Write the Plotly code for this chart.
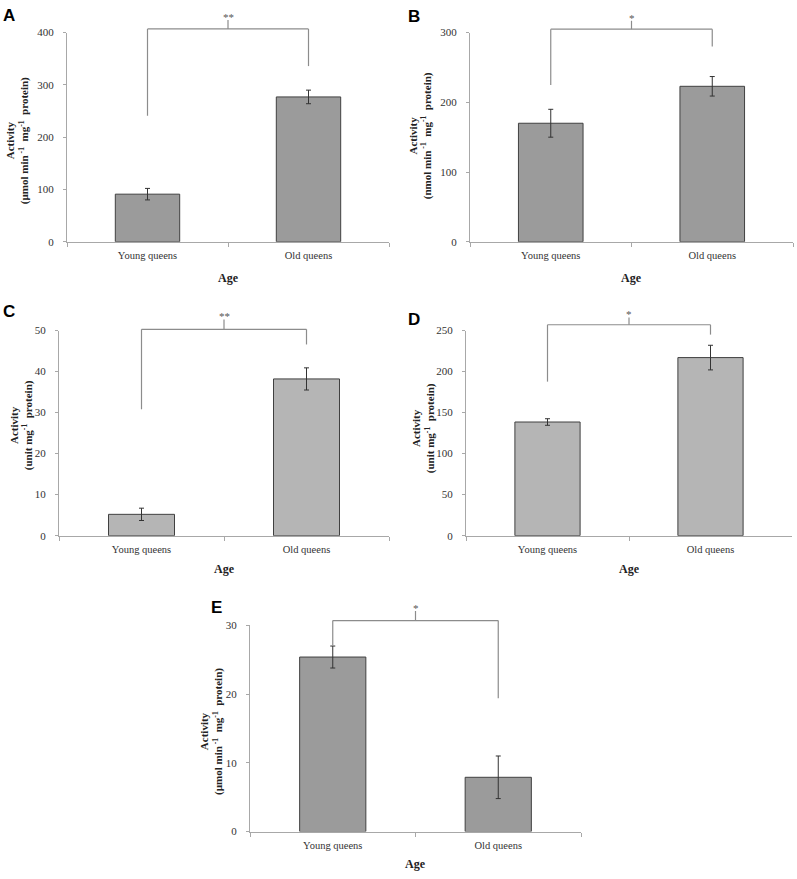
import plotly.graph_objects as go

W, H = 797, 879

categories = ["Young queens", "Old queens"]

# values per panel
panel_names = ["A", "B", "C", "D", "E"]
values_A = [91, 277]
errors_A = [11, 13]
values_B = [170, 223]
errors_B = [20, 14]
values_C = [5.2, 38.2]
errors_C = [1.5, 2.7]
values_D = [138.5, 217]
errors_D = [4, 15]
values_E = [25.4, 7.9]
errors_E = [1.6, 3.1]

ymax = [400, 300, 50, 250, 30]
ydtick = [100, 100, 10, 50, 10]

# bracket: [left leg bottom, top, right leg bottom, center tick top]
bracket_A = [241, 407, 336, 424]
bracket_B = [225, 305, 280, 317]
bracket_C = [30.8, 50.3, 46.6, 52.7]
bracket_D = [187.7, 257, 245, 266]
bracket_E = [27.05, 30.7, 19.4, 32.1]

signif = ["**", "*", "**", "*", "*"]

ytitles = [
    "<b>Activity</b><br><b>(µmol min<sup> -1</sup>  mg<sup>-1</sup>  protein)</b>",
    "<b>Activity</b><br><b>(nmol min<sup> -1</sup>  mg<sup>-1</sup>  protein)</b>",
    "<b>Activity</b><br><b>(unit mg<sup>-1</sup>  protein)</b>",
    "<b>Activity</b><br><b>(unit mg<sup>-1</sup>  protein)</b>",
    "<b>Activity</b><br><b>(µmol min<sup> -1</sup>  mg<sup>-1</sup>  protein)</b>",
]

values = [values_A, values_B, values_C, values_D, values_E]
errors = [errors_A, errors_B, errors_C, errors_D, errors_E]
brackets = [bracket_A, bracket_B, bracket_C, bracket_D, bracket_E]

dark_bar = "#9b9b9b"
light_bar = "#b5b5b5"
bar_colors = [dark_bar, dark_bar, light_bar, light_bar, dark_bar]

# pixel geometry (left, right, top, bottom) of each plot area
boxes = [
    (67, 389, 27, 239),
    (470, 793, 27, 239),
    (59, 389, 329, 537),
    (466, 792, 329, 537),
    (250, 581, 628, 837),
]
# y-title centers (px)
ytitle_pos = [(17, 137), (420, 132), (21, 425), (423, 428), (212, 735)]
# x-title centers (px y)
xtitle_y = [276, 276, 571, 571, 870]
# panel letter centers (px)
letter_pos = [(9, 10), (414, 11), (9, 310), (414, 318), (216, 610)]

serif = "Liberation Serif, Times New Roman, serif"
axis_col = "#a8a8a8"
brk_col = "#8c8c8c"

fig = go.Figure()
layout = dict(
    width=W, height=H,
    margin=dict(l=0, r=0, t=0, b=0),
    paper_bgcolor="white", plot_bgcolor="white",
    showlegend=False,
    shapes=[], annotations=[],
)

def px_x(p):
    return p / W

def px_y(p):
    return 1 - p / H

for i in range(5):
    n = "" if i == 0 else str(i + 1)
    xa, ya = "x" + n, "y" + n
    l, r, t, b = boxes[i]
    fig.add_trace(go.Bar(
        x=categories, y=values[i], xaxis=xa, yaxis=ya, width=0.4,
        marker=dict(color=bar_colors[i], line=dict(color="#404040", width=1)),
        error_y=dict(type="data", array=errors[i], color="#333333", thickness=1, width=2.5),
        hoverinfo="skip",
    ))
    layout["xaxis" + n] = dict(
        domain=[px_x(l), px_x(r)], anchor=ya, type="category",
        showline=True, linecolor=axis_col, linewidth=1,
        ticks="outside", tickson="boundaries", ticklen=4, tickcolor=axis_col,
        showgrid=False, zeroline=False, ticklabelstandoff=4,
        tickfont=dict(family=serif, size=10.5, color="#333333"),
    )
    layout["yaxis" + n] = dict(
        domain=[px_y(b), px_y(t)], anchor=xa, range=[0, ymax[i]],
        dtick=ydtick[i], tick0=0,
        showline=True, linecolor=axis_col, linewidth=1,
        ticks="outside", ticklen=3, tickcolor=axis_col,
        showgrid=False, zeroline=False, ticklabelstandoff=7,
        tickfont=dict(family=serif, size=11, color="#333333"),
    )
    # significance bracket
    lb, top, rb, ct = brackets[i]
    xr, yr = xa + " domain", ya + " domain"
    fy = lambda v: v / ymax[i]
    xL, xR, xM = 0.25, 0.75, 0.5
    for (x0, y0, x1, y1) in [
        (xL, fy(lb), xL, fy(top)),
        (xL, fy(top), xR, fy(top)),
        (xR, fy(top), xR, fy(rb)),
        (xM, fy(top), xM, fy(ct)),
    ]:
        layout["shapes"].append(dict(
            type="line", xref=xr, yref=yr, x0=x0, y0=y0, x1=x1, y1=y1,
            line=dict(color=brk_col, width=1.2),
        ))
    layout["annotations"].append(dict(
        text=signif[i], xref=xr, yref=yr, x=xM, y=fy(ct), yanchor="bottom",
        xanchor="center", showarrow=False, yshift=-5,
        font=dict(family=serif, size=11, color="#555555"),
    ))
    # x title
    layout["annotations"].append(dict(
        text="<b>Age</b>", xref="paper", yref="paper",
        x=px_x((l + r) / 2), y=px_y(xtitle_y[i]), showarrow=False,
        xanchor="center", yanchor="middle",
        font=dict(family=serif, size=12, color="#222222"),
    ))
    # y title
    tx, ty = ytitle_pos[i]
    layout["annotations"].append(dict(
        text=ytitles[i], xref="paper", yref="paper", x=px_x(tx), y=px_y(ty),
        textangle=-90, showarrow=False, xanchor="center", yanchor="middle",
        font=dict(family=serif, size=11, color="#222222"),
    ))
    # panel letter
    lx, ly = letter_pos[i]
    layout["annotations"].append(dict(
        text="<b>" + panel_names[i] + "</b>", xref="paper", yref="paper",
        x=px_x(lx), y=px_y(ly), showarrow=False, xanchor="center", yanchor="middle",
        font=dict(family="Liberation Sans, Arial, sans-serif", size=17, color="black"),
    ))

fig.update_layout(**layout)
fig.write_html(
    "out.html",
    config={"displayModeBar": False},
    post_script="document.body.style.margin='0';document.body.style.padding='0';document.body.style.overflow='hidden';",
)
